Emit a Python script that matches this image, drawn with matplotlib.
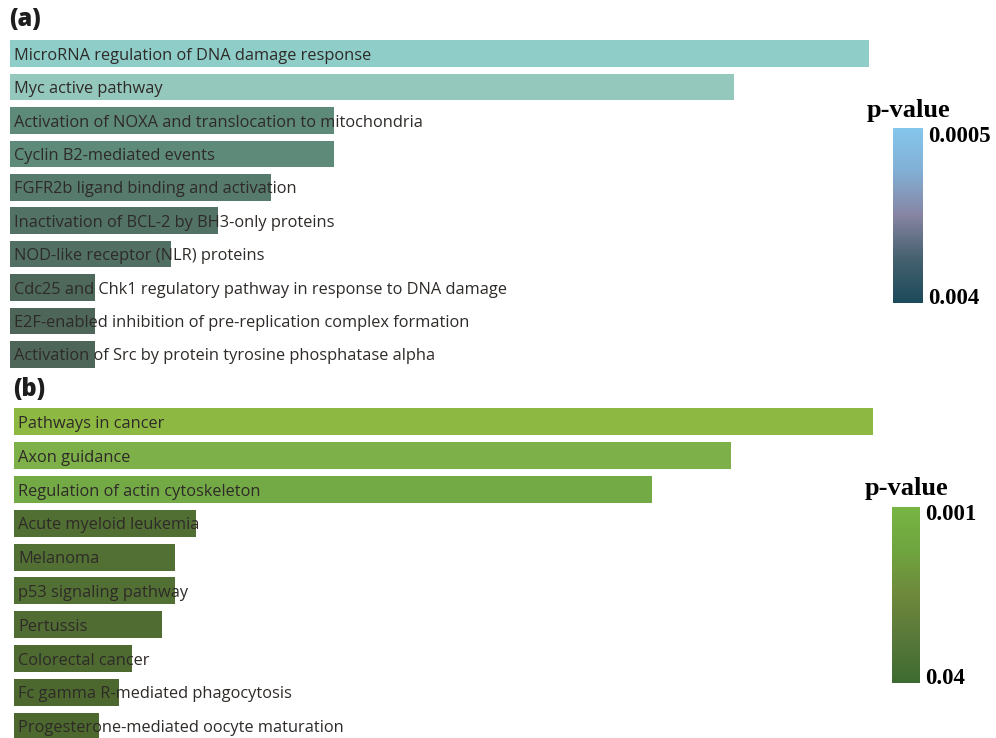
import numpy as np
import matplotlib.pyplot as plt
from matplotlib.colors import LinearSegmentedColormap
from matplotlib.colorbar import ColorbarBase

# Panel (a): pathway terms and enrichment scores
terms_a = [
    "MicroRNA regulation of DNA damage response",
    "Myc active pathway",
    "Activation of NOXA and translocation to mitochondria",
    "Cyclin B2-mediated events",
    "FGFR2b ligand binding and activation",
    "Inactivation of BCL-2 by BH3-only proteins",
    "NOD-like receptor (NLR) proteins",
    "Cdc25 and Chk1 regulatory pathway in response to DNA damage",
    "E2F-enabled inhibition of pre-replication complex formation",
    "Activation of Src by protein tyrosine phosphatase alpha",
]
scores_a = [10.1, 8.52, 3.81, 3.81, 3.07, 2.45, 1.89, 1.0, 1.0, 1.0]

# Panel (b): KEGG terms and enrichment scores
terms_b = [
    "Pathways in cancer",
    "Axon guidance",
    "Regulation of actin cytoskeleton",
    "Acute myeloid leukemia",
    "Melanoma",
    "p53 signaling pathway",
    "Pertussis",
    "Colorectal cancer",
    "Fc gamma R-mediated phagocytosis",
    "Progesterone-mediated oocyte maturation",
]
scores_b = [10.1, 8.44, 7.51, 2.14, 1.89, 1.89, 1.74, 1.39, 1.24, 1.0]

pval_labels_a = ["0.0005", "0.004"]
pval_labels_b = ["0.001", "0.04"]

colors_a = ["#8fcdc8", "#94c8bc", "#5e8a7a", "#5e8a7a", "#567a6c",
            "#527266", "#517063", "#4e685c", "#4e665a", "#4e665a"]
colors_b = ["#8db942", "#7db048", "#74aa46", "#516f33", "#527034",
            "#527034", "#506c32", "#4e6a30", "#4c682e", "#4c682e"]

W, H = 996, 738
fig = plt.figure(figsize=(W / 100, H / 100), dpi=100)


def px_axes(x0, y0, x1, y1):
    # axes from pixel box (top-left origin)
    return fig.add_axes([x0 / W, 1 - y1 / H, (x1 - x0) / W, (y1 - y0) / H])


def draw_panel(ax, terms, scores, colors):
    y = np.arange(len(terms))
    ax.barh(y, scores, height=0.8, color=colors, zorder=1)
    for yi, t in zip(y, terms):
        ax.text(0.05, yi + 0.06, t, va="center", ha="left", fontsize=11.8,
                family="Open Sans", color="#2e2a28", zorder=3)
    ax.set_xlim(0, 11)
    ax.set_ylim(len(terms) - 0.5, -0.5)
    ax.axis("off")


ax_a = px_axes(10, 37, 945, 371)
draw_panel(ax_a, terms_a, scores_a, colors_a)
ax_b = px_axes(14, 405, 949, 743)
draw_panel(ax_b, terms_b, scores_b, colors_b)

fig.text(9 / W, 1 - 19 / H, "(a)", fontsize=17, fontweight="heavy",
         family="Open Sans", va="center", ha="left", color="#1e1e1e")
fig.text(13 / W, 1 - 389 / H, "(b)", fontsize=17, fontweight="heavy",
         family="Open Sans", va="center", ha="left", color="#1e1e1e")

cmap_a = LinearSegmentedColormap.from_list(
    "pa", ["#1c4a5a", "#44606e", "#8684a2", "#82aed4", "#84c6ec"])
cmap_b = LinearSegmentedColormap.from_list(
    "pb", ["#3d6a30", "#58783a", "#6e883c", "#6fa43e", "#76b544"])


def draw_colorbar(box, cmap, labels):
    x0, y0, x1, y1 = box
    cax = px_axes(x0, y0, x1, y1)
    cb = ColorbarBase(cax, cmap=cmap, orientation="vertical")
    cb.set_ticks([])
    cb.outline.set_visible(False)
    serif = dict(family="Liberation Serif", fontweight="bold", color="black")
    fig.text((x0 + x1) / 2 / W + 0.001, 1 - (y0 - 18) / H, "p-value",
             fontsize=19, ha="center", va="center", **serif)
    fig.text((x1 + 5) / W, 1 - (y0 + 8) / H, labels[0],
             fontsize=16.5, ha="left", va="center", **serif)
    fig.text((x1 + 5) / W, 1 - (y1 - 5) / H, labels[1],
             fontsize=16.5, ha="left", va="center", **serif)


draw_colorbar((893, 128, 923, 303), cmap_a, pval_labels_a)
draw_colorbar((892, 507, 920, 683), cmap_b, pval_labels_b)

fig.savefig("out.png", dpi=100)
